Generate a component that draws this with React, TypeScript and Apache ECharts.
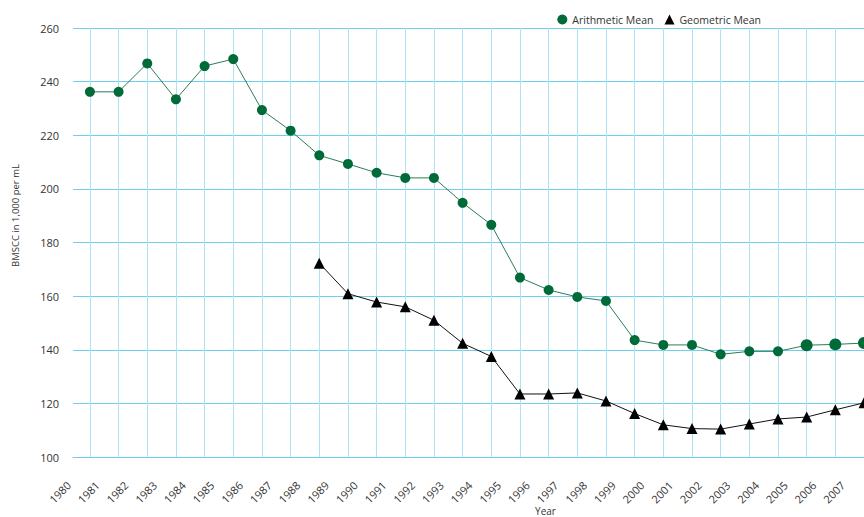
import React, { useEffect, useRef } from "react";
import * as echarts from "echarts";

const years: number[] = [
  1980, 1981, 1982, 1983, 1984, 1985, 1986, 1987, 1988, 1989,
  1990, 1991, 1992, 1993, 1994, 1995, 1996, 1997, 1998, 1999,
  2000, 2001, 2002, 2003, 2004, 2005, 2006, 2007,
];

const arithmeticMean: (number | null)[] = [
  236.2, 236.2, 246.8, 233.4, 245.8, 248.4, 229.4, 221.7, 212.5, 209.3,
  206.0, 204.1, 204.1, 194.8, 186.6, 166.9, 162.3, 159.7, 158.2, 143.6,
  141.8, 141.8, 138.3, 139.4, 139.4, 141.7, 142.0, 142.5,
];

const geometricMean: (number | null)[] = [
  null, null, null, null, null, null, null, null, 172.3, 160.9,
  157.8, 156.0, 151.0, 142.4, 137.5, 123.5, 123.5, 123.9, 120.9, 116.2,
  112.0, 110.6, 110.4, 112.3, 114.2, 114.9, 117.6, 120.2,
];

const yTicks: number[] = [100, 120, 140, 160, 180, 200, 220, 240, 260];

const FONT = "'Open Sans', 'Noto Sans', sans-serif";

export default function App() {
  const ref = useRef<HTMLDivElement>(null);

  useEffect(() => {
    if (!ref.current) return;
    const chart = echarts.init(ref.current, null, { renderer: "svg" });
    const arith = years.map((y, i) => [y, arithmeticMean[i]]);
    const geo = years
      .map((y, i) => [y, geometricMean[i]])
      .filter((d) => d[1] !== null);

    chart.setOption({
      animation: false,
      backgroundColor: "#ffffff",
      textStyle: { fontFamily: FONT },
      legend: {
        right: 98,
        top: 9,
        itemWidth: 10,
        itemHeight: 10,
        itemGap: 11,
        textStyle: { fontFamily: FONT, fontSize: 10.5, color: "#333" },
        data: [
          { name: "Arithmetic Mean", icon: "circle" },
          { name: "Geometric Mean", icon: "triangle" },
        ],
      },
      grid: {
        left: 73,
        right: 0,
        top: 28,
        bottom: 60,
        containLabel: false,
        outerBoundsMode: "none",
      },
      xAxis: {
        type: "value",
        min: 1979.41,
        max: 2007,
        name: "Year",
        nameLocation: "middle",
        nameGap: 48,
        nameMoveOverlap: false,
        nameTextStyle: {
          fontFamily: FONT,
          fontSize: 10,
          lineHeight: 11,
          color: "#333",
          padding: [0, 0, 0, 154],
        },
        axisLine: { show: true, lineStyle: { color: "#6fcdf0", width: 1 } },
        axisTick: { show: false, customValues: years },
        axisLabel: {
          customValues: years,
          rotate: 45,
          margin: 5,
          padding: [0, 30, 0, 0],
          fontFamily: FONT,
          fontSize: 11,
          color: "#333",
          formatter: (v: number) => String(v),
        },
        splitLine: { show: true, lineStyle: { color: "#ade3f6", width: 1 } },
      },
      yAxis: {
        type: "value",
        min: yTicks[0],
        max: yTicks[yTicks.length - 1],
        interval: 20,
        name: "BMSCC in 1,000 per mL",
        nameLocation: "middle",
        nameGap: 53,
        nameTextStyle: { fontFamily: FONT, fontSize: 9.5, color: "#333", padding: [0, 0, 0, 54] },
        axisLine: { show: false },
        axisTick: { show: false },
        axisLabel: { margin: 14, fontFamily: FONT, fontSize: 11, color: "#333" },
        splitLine: { show: true, lineStyle: { color: "#6fcdf0", width: 1 } },
      },
      series: [
        {
          name: "Arithmetic Mean",
          type: "line",
          data: arith,
          symbol: "circle",
          symbolSize: (_v: any, p: any) => (p.dataIndex >= 25 ? 12 : 10),
          itemStyle: { color: "#006a38" },
          lineStyle: { color: "#2b7d55", width: 1 },
          z: 3,
        },
        {
          name: "Geometric Mean",
          type: "line",
          data: geo,
          symbol: "triangle",
          symbolSize: 11,
          itemStyle: { color: "#000000" },
          lineStyle: { color: "#111111", width: 1 },
          z: 4,
        },
      ],
    });

    return () => chart.dispose();
  }, []);

  return <div ref={ref} style={{ width: 864, height: 517, position: "absolute", left: 0, top: 0 }} />;
}
